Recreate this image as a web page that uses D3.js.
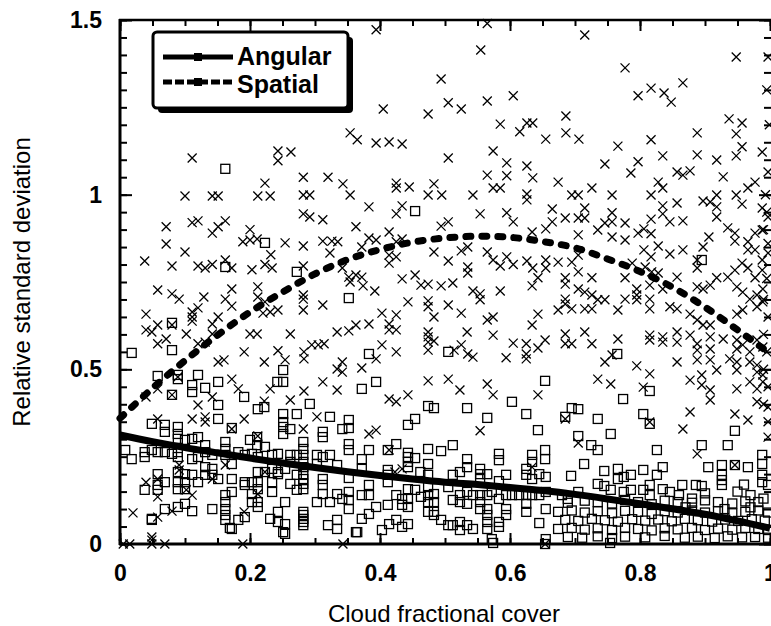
<!DOCTYPE html>
<html>
<head>
<meta charset="utf-8">
<script src="https://cdn.jsdelivr.net/npm/d3@7"></script>
<style>
  body { margin: 0; background: #fff; }
  svg { display: block; font-family: "Liberation Sans", Arial, Helvetica, sans-serif; }
</style>
</head>
<body>
<div id="chart"></div>
<script>
// fitted curves
const fitX = [0, 0.05, 0.1, 0.15, 0.2, 0.25, 0.3, 0.35, 0.4, 0.45, 0.5, 0.55, 0.6, 0.65, 0.7, 0.75, 0.8, 0.85, 0.9, 0.95, 1];
const angularFit = [0.312, 0.293, 0.276, 0.261, 0.246, 0.232, 0.219, 0.207, 0.196, 0.186, 0.177, 0.17, 0.162, 0.153, 0.142, 0.129, 0.115, 0.101, 0.085, 0.066, 0.045];
const spatialFit = [0.36, 0.446, 0.525, 0.598, 0.664, 0.721, 0.773, 0.814, 0.843, 0.864, 0.876, 0.881, 0.878, 0.866, 0.848, 0.816, 0.78, 0.735, 0.678, 0.613, 0.545];

// scatter: spatial (crosses)
const spatialPts = [
  [0.038,0.81],[0.111,1.105],[0.071,0.908],[0.071,0.859],[0.08,0.796],[0.1,0.996],[0.1,0.836],[0.111,0.92],[0.12,0.925],[0.12,0.796],[0.131,0.79],[0.142,0.8],[0.142,0.89],[0.151,0.908],[0.162,0.925],[0.142,0.996],[0.151,0.996],[0.162,0.813],[0.172,0.79],[0.189,0.865],[0.2,0.87],[0.211,0.873],[0.2,0.9],[0.203,0.785],[0.212,0.996],[0.231,0.996],[0.223,1.033],[0.223,0.8],[0.234,0.79],[0.232,0.828],[0.243,1.125],[0.243,1.097],[0.263,1.122],[0.254,0.862],[0.282,1.05],[0.32,1.05],[0.282,0.999],[0.292,0.999],[0.282,0.945],[0.292,0.936],[0.312,0.928],[0.282,0.853],[0.282,0.796],[0.312,0.867],[0.326,0.867],[0.323,0.833],
  [0.394,1.472],[0.565,1.49],[0.555,1.414],[0.494,1.331],[0.405,1.245],[0.474,1.231],[0.505,1.263],[0.525,1.245],[0.565,1.268],[0.605,1.283],[0.354,1.177],[0.365,1.157],[0.394,1.148],[0.414,1.151],[0.434,1.145],[0.585,1.202],[0.615,1.18],[0.626,1.205],[0.635,1.205],[0.655,1.159],[0.505,1.105],[0.574,1.125],[0.595,1.091],[0.626,1.082],[0.635,1.048],[0.565,1.056],[0.595,1.054],[0.574,1.019],[0.585,1.019],[0.626,1.002],[0.626,0.985],[0.343,1.031],[0.354,0.999],[0.425,1.033],[0.425,1.019],[0.445,1.022],[0.483,1.031],[0.474,0.999],[0.495,0.999],[0.543,0.999],[0.383,0.965],[0.425,0.945],[0.434,0.968],[0.363,0.908],[0.494,0.91],[0.505,0.922],[0.554,0.945],[0.595,0.948],[0.605,0.922],[0.655,0.902],[0.665,0.922],[0.665,0.959],[0.634,0.893],[0.335,0.865],[0.372,0.85],[0.383,0.876],[0.394,0.87],[0.414,0.893],[0.425,0.865],[0.434,0.873],[0.342,0.79],[0.414,0.827],[0.414,0.804],[0.425,0.822],[0.483,0.836],[0.505,0.81],[0.525,0.839],[0.535,0.85],[0.535,0.793],[0.535,0.776],[0.565,0.836],[0.574,0.813],[0.585,0.796],[0.595,0.822],[0.605,0.8],[0.626,0.81],[0.635,0.79],[0.655,0.813],[0.655,0.79],[0.352,0.764],[0.363,0.77],[0.372,0.764],[0.434,0.759],[0.454,0.77],[0.643,0.762],
  [0.715,1.457],[0.777,1.363],[0.948,1.394],[0.997,1.394],[0.797,1.283],[0.817,1.305],[0.837,1.291],[0.848,1.265],[0.866,1.32],[0.686,1.225],[0.686,1.177],[0.706,1.159],[0.766,1.139],[0.817,1.157],[0.888,1.177],[0.937,1.217],[0.957,1.205],[0.948,1.174],[0.957,1.137],[0.948,1.111],[0.988,1.122],[0.997,1.065],[0.835,1.111],[0.888,1.114],[0.918,1.099],[0.746,1.088],[0.797,1.094],[0.786,1.062],[0.857,1.065],[0.866,1.056],[0.877,1.068],[0.928,1.051],[0.674,1.036],[0.695,0.999],[0.705,0.999],[0.726,1.019],[0.757,0.999],[0.817,0.999],[0.828,1.036],[0.835,1.019],[0.835,0.968],[0.835,0.945],[0.846,0.922],[0.857,0.976],[0.866,0.925],[0.897,0.982],[0.908,0.979],[0.918,0.999],[0.918,0.965],[0.918,0.936],[0.948,0.999],[0.957,0.973],[0.966,1.019],[0.977,1.036],[0.988,0.962],[0.997,0.936],[0.685,0.933],[0.705,0.933],[0.715,0.962],[0.715,0.933],[0.705,0.885],[0.735,0.899],[0.746,0.919],[0.757,0.948],[0.757,0.922],[0.757,0.879],[0.777,0.919],[0.777,0.87],[0.797,0.89],[0.806,0.902],[0.817,0.888],[0.817,0.93],[0.806,0.842],[0.817,0.822],[0.828,0.853],[0.846,0.83],[0.866,0.842],[0.897,0.85],[0.906,0.879],[0.935,0.905],[0.946,0.89],[0.946,0.867],[0.966,0.865],[0.977,0.89],[0.988,0.899],[0.966,0.842],[0.977,0.842],[0.988,0.813],[0.997,0.833],[0.674,0.807],[0.695,0.807],[0.705,0.827],[0.705,0.779],[0.777,0.762],[0.788,0.804],[0.808,0.793],[0.818,0.779],[0.828,0.776],[0.857,0.764],[0.888,0.813],[0.888,0.79],[0.935,0.764],[0.946,0.784],[0.957,0.804],[0.966,0.79],[0.977,0.762],[0.988,0.784],[0.685,0.762],[0.726,0.762],[0.918,0.762],
  [0.058,0.727],[0.08,0.716],[0.091,0.701],[0.111,0.664],[0.111,0.65],[0.111,0.638],[0.12,0.676],[0.129,0.707],[0.172,0.73],[0.162,0.701],[0.172,0.681],[0.212,0.736],[0.212,0.707],[0.223,0.693],[0.282,0.713],[0.282,0.701],[0.282,0.67],[0.312,0.684],[0.04,0.658],[0.04,0.613],[0.049,0.607],[0.058,0.627],[0.058,0.573],[0.071,0.587],[0.08,0.627],[0.102,0.601],[0.142,0.63],[0.151,0.65],[0.142,0.601],[0.131,0.578],[0.12,0.573],[0.2,0.601],[0.211,0.601],[0.22,0.661],[0.231,0.664],[0.243,0.67],[0.262,0.601],[0.16,0.527],[0.151,0.521],[0.191,0.55],[0.222,0.521],[0.243,0.553],[0.254,0.527],[0.283,0.55],[0.283,0.53],[0.295,0.57],[0.305,0.57],[0.314,0.573],[0.312,0.464],[0.283,0.438],[0.222,0.409],[0.231,0.444],[0.262,0.412],[0.172,0.472],[0.182,0.444],[0.142,0.421],[0.12,0.398],[0.04,0.421],[0.058,0.444],[0.08,0.427],[0.089,0.478],[0.111,0.358],[0.131,0.364],[0.131,0.349],[0.058,0.358],[0.191,0.358],[0.303,0.364],[0.282,0.329],[0.172,0.329],[0.212,0.309],[0.091,0.226],[0.091,0.212],[0.162,0.226],[0.223,0.206],[0.04,0.177],[0.058,0.186],[0.058,0.135],[0.102,0.155],[0.111,0.14],[0.142,0.186],[0.212,0.143],[0.02,0.089],[0.058,0.077],[0.08,0.094],[0.191,0.092],[0.049,0.02],[0.049,0.011],[0.005,0],[0.015,0],[0.049,0],[0.069,0],[0.189,0],[0.343,0],
  [0.354,0.75],[0.374,0.739],[0.392,0.724],[0.463,0.741],[0.474,0.744],[0.494,0.739],[0.512,0.747],[0.543,0.724],[0.554,0.716],[0.554,0.699],[0.585,0.724],[0.634,0.739],[0.443,0.693],[0.474,0.696],[0.474,0.679],[0.483,0.65],[0.505,0.684],[0.525,0.661],[0.403,0.661],[0.425,0.656],[0.414,0.63],[0.414,0.613],[0.425,0.613],[0.383,0.63],[0.363,0.627],[0.352,0.61],[0.334,0.607],[0.474,0.607],[0.474,0.593],[0.474,0.578],[0.474,0.555],[0.483,0.581],[0.534,0.607],[0.565,0.641],[0.574,0.65],[0.574,0.598],[0.643,0.658],[0.634,0.627],[0.403,0.57],[0.425,0.55],[0.394,0.53],[0.372,0.504],[0.342,0.521],[0.342,0.492],[0.334,0.501],[0.514,0.555],[0.525,0.57],[0.535,0.544],[0.543,0.535],[0.605,0.575],[0.625,0.573],[0.625,0.544],[0.625,0.53],[0.643,0.561],[0.654,0.584],[0.594,0.533],[0.474,0.467],[0.505,0.472],[0.443,0.427],[0.414,0.415],[0.425,0.407],[0.523,0.441],[0.565,0.458],[0.574,0.427],[0.643,0.427],[0.334,0.441],[0.383,0.315],[0.394,0.326],[0.554,0.324],[0.414,0.269],[0.423,0.206],[0.434,0.215],[0.634,0.22],[0.654,0],
  [0.685,0.744],[0.705,0.73],[0.715,0.721],[0.726,0.713],[0.735,0.699],[0.746,0.699],[0.766,0.67],[0.777,0.701],[0.674,0.67],[0.685,0.687],[0.685,0.701],[0.695,0.673],[0.715,0.673],[0.726,0.673],[0.795,0.73],[0.795,0.713],[0.795,0.699],[0.815,0.741],[0.815,0.701],[0.815,0.673],[0.835,0.73],[0.846,0.679],[0.857,0.673],[0.877,0.658],[0.888,0.641],[0.897,0.627],[0.908,0.627],[0.888,0.736],[0.897,0.73],[0.908,0.741],[0.949,0.736],[0.958,0.721],[0.969,0.701],[0.98,0.713],[0.989,0.73],[0.949,0.658],[0.958,0.67],[0.98,0.679],[0.989,0.693],[0.685,0.601],[0.685,0.573],[0.695,0.573],[0.715,0.607],[0.726,0.573],[0.766,0.587],[0.815,0.598],[0.815,0.584],[0.835,0.593],[0.835,0.578],[0.857,0.607],[0.857,0.578],[0.877,0.598],[0.888,0.573],[0.888,0.555],[0.908,0.593],[0.908,0.558],[0.928,0.587],[0.949,0.584],[0.949,0.558],[0.958,0.57],[0.969,0.55],[0.98,0.584],[0.989,0.564],[0.746,0.521],[0.757,0.541],[0.795,0.51],[0.815,0.487],[0.857,0.521],[0.888,0.527],[0.908,0.527],[0.918,0.498],[0.895,0.484],[0.938,0.53],[0.949,0.521],[0.949,0.498],[0.969,0.521],[0.98,0.512],[0.98,0.492],[0.989,0.484],[0.735,0.472],[0.755,0.458],[0.805,0.449],[0.877,0.469],[0.895,0.455],[0.908,0.441],[0.908,0.412],[0.949,0.444],[0.969,0.464],[0.98,0.444],[0.98,0.407],[0.989,0.464],[0.685,0.358],[0.815,0.349],[0.877,0.378],[0.866,0.329],[0.946,0.372],[0.966,0.355],[0.997,0.392],[0.997,0.306],[0.705,0.289],[0.888,0.258],[0.946,0.226],
  [0.995,0.95],[0.99,0.9],[0.997,0.86],[0.995,0.76],[0.99,0.7],[0.997,0.65],[0.99,0.6],[0.995,0.55],[0.99,0.5],[0.997,0.45],[0.99,0.4],[0.997,0.35],[0.993,1.0],[0.999,1.2],[0.995,1.3]
];

// scatter: angular (squares)
const angularPts = [
  [0.162,1.074],[0.223,0.862],[0.162,0.793],[0.272,0.779],[0.454,0.953],[0.895,0.813],
  [0.018,0.547],[0.08,0.633],[0.08,0.555],[0.058,0.481],[0.089,0.484],[0.089,0.472],[0.12,0.484],[0.08,0.427],[0.111,0.455],[0.111,0.435],[0.131,0.447],[0.151,0.464],[0.151,0.398],[0.151,0.358],[0.191,0.421],[0.049,0.344],[0.069,0.341],[0.069,0.321],[0.089,0.335],[0.089,0.315],[0.089,0.301],[0.1,0.298],[0.111,0.301],[0.12,0.306],[0.172,0.332],[0.2,0.298],[0.211,0.306],[0.211,0.283],[0.251,0.372],[0.251,0.349],[0.251,0.335],[0.251,0.315],[0.262,0.329],[0.272,0.372],[0.292,0.401],[0.312,0.321],[0.312,0.306],[0.323,0.364],[0.251,0.498],[0.251,0.464],[0.242,0.464],[0.212,0.386],[0.222,0.392],[0.008,0.269],[0.018,0.243],[0.038,0.263],[0.038,0.249],[0.049,0.269],[0.058,0.263],[0.069,0.263],[0.08,0.258],[0.089,0.263],[0.089,0.249],[0.111,0.243],[0.12,0.249],[0.131,0.283],[0.131,0.263],[0.142,0.255],[0.142,0.215],[0.142,0.198],[0.151,0.186],[0.162,0.292],[0.162,0.272],[0.162,0.255],[0.172,0.229],[0.172,0.186],[0.172,0.149],[0.182,0.263],[0.192,0.255],[0.203,0.258],[0.192,0.177],[0.192,0.169],[0.203,0.177],[0.203,0.143],[0.203,0.12],[0.212,0.12],[0.212,0.106],[0.212,0.249],[0.223,0.278],[0.234,0.255],[0.243,0.258],[0.223,0.206],[0.234,0.215],[0.243,0.206],[0.162,0.14],[0.162,0.12],[0.162,0.1],[0.162,0.083],[0.172,0.043],[0.182,0.069],[0.192,0.077],[0.162,0.069],[0.142,0.1],[0.111,0.094],[0.1,0.115],[0.089,0.106],[0.069,0.1],[0.049,0.072],[0.038,0.155],[0.058,0.2],[0.058,0.169],[0.058,0.155],[0.069,0.177],[0.089,0.206],[0.089,0.177],[0.089,0.157],[0.1,0.2],[0.1,0.177],[0.1,0.157],[0.111,0.198],[0.12,0.177],[0.131,0.22],[0.131,0.198],[0.212,0.206],[0.212,0.177],[0.212,0.157],[0.234,0.177],[0.234,0.149],[0.243,0.2],[0.254,0.215],[0.243,0.092],[0.254,0.12],[0.231,0.072],[0.243,0.063],[0.254,0.057],[0.251,0.034],[0.272,0.155],[0.282,0.2],[0.282,0.186],[0.282,0.172],[0.282,0.157],[0.282,0.092],[0.282,0.083],[0.282,0.072],[0.282,0.063],[0.282,0.054],[0.272,0.255],[0.282,0.292],[0.282,0.272],[0.282,0.255],[0.282,0.235],[0.282,0.22],[0.262,0.255],[0.262,0.235],[0.272,0.198],[0.262,0.172],[0.303,0.255],[0.303,0.229],[0.312,0.249],[0.323,0.255],[0.312,0.186],[0.312,0.169],[0.312,0.143],[0.323,0.12],[0.303,0.12],[0.32,0.054],[0.254,0.029],[0.169,0.046],[0.365,0.034],[0.049,0.069],
  [0.352,0.704],[0.383,0.544],[0.505,0.55],[0.394,0.464],[0.372,0.444],[0.654,0.467],[0.474,0.395],[0.483,0.389],[0.534,0.389],[0.603,0.407],[0.625,0.372],[0.565,0.361],[0.443,0.341],[0.454,0.358],[0.352,0.355],[0.352,0.332],[0.342,0.329],[0.643,0.326],[0.352,0.286],[0.352,0.269],[0.425,0.286],[0.512,0.283],[0.443,0.261],[0.443,0.249],[0.443,0.235],[0.443,0.22],[0.454,0.246],[0.474,0.272],[0.474,0.229],[0.474,0.198],[0.494,0.266],[0.534,0.243],[0.534,0.22],[0.583,0.258],[0.583,0.24],[0.634,0.255],[0.634,0.235],[0.654,0.269],[0.654,0.243],[0.334,0.226],[0.372,0.243],[0.383,0.269],[0.372,0.215],[0.412,0.269],[0.412,0.212],[0.412,0.198],[0.412,0.177],[0.352,0.189],[0.383,0.169],[0.462,0.206],[0.512,0.198],[0.523,0.206],[0.554,0.215],[0.554,0.2],[0.554,0.186],[0.565,0.2],[0.594,0.198],[0.583,0.18],[0.625,0.215],[0.625,0.198],[0.634,0.186],[0.645,0.2],[0.655,0.192],[0.334,0.143],[0.342,0.129],[0.352,0.149],[0.352,0.126],[0.352,0.1],[0.372,0.14],[0.383,0.14],[0.412,0.112],[0.425,0.14],[0.434,0.129],[0.434,0.112],[0.443,0.157],[0.443,0.129],[0.443,0.106],[0.454,0.155],[0.463,0.135],[0.474,0.163],[0.474,0.14],[0.474,0.12],[0.474,0.092],[0.483,0.143],[0.483,0.12],[0.483,0.092],[0.505,0.163],[0.512,0.126],[0.523,0.14],[0.523,0.12],[0.534,0.149],[0.534,0.115],[0.543,0.14],[0.554,0.14],[0.554,0.12],[0.554,0.1],[0.565,0.14],[0.565,0.1],[0.565,0.083],[0.565,0.063],[0.565,0.043],[0.572,0.149],[0.583,0.129],[0.594,0.14],[0.594,0.1],[0.594,0.083],[0.583,0.063],[0.583,0.049],[0.603,0.14],[0.614,0.14],[0.625,0.14],[0.625,0.115],[0.625,0.092],[0.634,0.14],[0.645,0.14],[0.655,0.149],[0.655,0.1],[0.645,0.06],[0.334,0.069],[0.334,0.043],[0.363,0.034],[0.372,0.072],[0.383,0.086],[0.394,0.106],[0.403,0.04],[0.414,0.057],[0.425,0.069],[0.434,0.049],[0.443,0.057],[0.483,0.083],[0.494,0.069],[0.505,0.054],[0.512,0.054],[0.523,0.063],[0.523,0.04],[0.534,0.054],[0.543,0.043],[0.572,0.014],[0.655,0.014],[0.574,0.003],[0.654,0],[0.754,0.003],
  [0.765,0.544],[0.815,0.438],[0.805,0.372],[0.815,0.344],[0.774,0.415],[0.695,0.389],[0.705,0.386],[0.685,0.364],[0.735,0.358],[0.705,0.309],[0.755,0.315],[0.725,0.283],[0.735,0.269],[0.826,0.269],[0.895,0.283],[0.935,0.283],[0.946,0.324],[0.714,0.229],[0.694,0.195],[0.745,0.209],[0.766,0.215],[0.766,0.186],[0.775,0.192],[0.786,0.198],[0.805,0.212],[0.826,0.198],[0.835,0.22],[0.905,0.22],[0.926,0.226],[0.946,0.226],[0.966,0.22],[0.988,0.255],[0.988,0.229],[0.865,0.169],[0.886,0.169],[0.895,0.166],[0.926,0.198],[0.926,0.183],[0.926,0.169],[0.988,0.198],[0.988,0.177],[0.997,0.169],[0.735,0.172],[0.745,0.166],[0.755,0.155],[0.775,0.149],[0.786,0.155],[0.805,0.155],[0.815,0.169],[0.815,0.14],[0.835,0.157],[0.846,0.149],[0.68,0.14],[0.689,0.129],[0.705,0.149],
  [0.689,0.118],[0.715,0.124],[0.735,0.12],[0.757,0.116],[0.777,0.126],[0.797,0.12],[0.818,0.114],[0.838,0.124],[0.858,0.12],[0.88,0.118],[0.9,0.125],[0.92,0.12],[0.942,0.116],[0.962,0.122],[0.982,0.12],
  [0.674,0.092],[0.695,0.096],[0.715,0.09],[0.735,0.094],[0.757,0.088],[0.777,0.095],[0.797,0.092],[0.818,0.086],[0.838,0.094],[0.858,0.09],[0.88,0.096],[0.9,0.09],[0.92,0.094],[0.942,0.088],[0.962,0.092],[0.982,0.096],[0.997,0.09],
  [0.685,0.069],[0.705,0.066],[0.726,0.072],[0.746,0.068],[0.766,0.064],[0.788,0.071],[0.808,0.067],[0.828,0.07],[0.849,0.065],[0.869,0.072],[0.889,0.068],[0.911,0.064],[0.931,0.07],[0.951,0.066],[0.972,0.071],[0.992,0.067],
  [0.674,0.043],[0.695,0.046],[0.715,0.041],[0.735,0.045],[0.757,0.04],[0.777,0.046],[0.797,0.043],[0.818,0.039],[0.838,0.045],[0.858,0.042],[0.88,0.046],[0.9,0.04],[0.92,0.044],[0.942,0.041],[0.962,0.046],[0.982,0.043],[0.997,0.04],
  [0.689,0.02],[0.711,0.018],[0.735,0.022],[0.757,0.017],[0.777,0.021],[0.808,0.019],[0.838,0.023],[0.869,0.018],[0.889,0.021],[0.915,0.017],[0.935,0.022],[0.957,0.019],[0.977,0.02],[0.997,0.018],
  [0.86,0.14],[0.88,0.13],[0.9,0.145],[0.95,0.15],[0.97,0.14],[0.99,0.13],[0.96,0.17],[0.87,0.105],[0.93,0.1],[0.97,0.105]
];

const xMajor = [0, 0.2, 0.4, 0.6, 0.8, 1];
const yMajor = [0, 0.5, 1, 1.5];
const xLabels = ['0', '0.2', '0.4', '0.6', '0.8', '1'];
const yLabels = ['0', '0.5', '1', '1.5'];
const seriesNames = ['Angular', 'Spatial'];

const width = 771, height = 626;
const svg = d3.select('#chart').append('svg')
    .attr('width', width)
    .attr('height', height);

const x = d3.scaleLinear().domain([0, 1]).range([120, 770]);
const y = d3.scaleLinear().domain([0, 1.5]).range([544, 20]);

const xMinor = d3.range(0, 1.0001, 0.05);
const yMinor = d3.range(0, 1.5001, 0.05);

function styleAxis(g) {
    g.select('.domain').remove();
    g.selectAll('.tick line').attr('stroke', '#000').attr('stroke-width', 2);
    g.selectAll('.tick text')
        .attr('fill', '#000')
        .attr('font-size', '23px')
        .attr('font-weight', 'bold')
        .attr('font-family', '"Liberation Sans", Arial, sans-serif');
}

// minor ticks on all four sides
svg.append('g').attr('transform', 'translate(0,544)')
    .call(d3.axisBottom(x).tickValues(xMinor).tickSize(-6).tickFormat(''))
    .call(styleAxis);
svg.append('g').attr('transform', 'translate(0,20)')
    .call(d3.axisTop(x).tickValues(xMinor).tickSize(-6).tickFormat(''))
    .call(styleAxis);
svg.append('g').attr('transform', 'translate(120,0)')
    .call(d3.axisLeft(y).tickValues(yMinor).tickSize(-7).tickFormat(''))
    .call(styleAxis);
svg.append('g').attr('transform', 'translate(771,0)')
    .call(d3.axisRight(y).tickValues(yMinor).tickSize(-7).tickFormat(''))
    .call(styleAxis);

// major ticks with labels
svg.append('g').attr('transform', 'translate(0,544)')
    .call(d3.axisBottom(x).tickValues(xMajor).tickSize(-11).tickPadding(21)
        .tickFormat((d, i) => xLabels[i]))
    .call(styleAxis);
svg.append('g').attr('transform', 'translate(0,20)')
    .call(d3.axisTop(x).tickValues(xMajor).tickSize(-11).tickFormat(''))
    .call(styleAxis);
svg.append('g').attr('transform', 'translate(120,0)')
    .call(d3.axisLeft(y).tickValues(yMajor).tickSize(-12).tickPadding(18)
        .tickFormat((d, i) => yLabels[i]))
    .call(styleAxis);
svg.append('g').attr('transform', 'translate(771,0)')
    .call(d3.axisRight(y).tickValues(yMajor).tickSize(-12).tickFormat(''))
    .call(styleAxis);

// frame
svg.append('line').attr('x1', 120).attr('x2', 120).attr('y1', 19).attr('y2', 545)
    .attr('stroke', '#000').attr('stroke-width', 3);
svg.append('line').attr('x1', 119).attr('x2', 771).attr('y1', 544).attr('y2', 544)
    .attr('stroke', '#000').attr('stroke-width', 3);
svg.append('line').attr('x1', 119).attr('x2', 771).attr('y1', 20).attr('y2', 20)
    .attr('stroke', '#000').attr('stroke-width', 2.5);

// scatter
const pts = svg.append('g').attr('fill', 'none').attr('stroke', '#000').attr('stroke-width', 1.3);
pts.selectAll('rect.ang').data(angularPts).join('rect')
    .attr('class', 'ang')
    .attr('x', d => x(d[0]) - 4.5)
    .attr('y', d => y(d[1]) - 4.5)
    .attr('width', 9).attr('height', 9);
pts.selectAll('path.spa').data(spatialPts).join('path')
    .attr('class', 'spa')
    .attr('d', d => {
        const cx = x(d[0]), cy = y(d[1]);
        return `M${cx - 4.5},${cy - 4.5}L${cx + 4.5},${cy + 4.5}M${cx - 4.5},${cy + 4.5}L${cx + 4.5},${cy - 4.5}`;
    });

// fitted curves
const fitLine = vals => d3.line()
    .x((d, i) => x(fitX[i]))
    .y(d => y(d))
    .curve(d3.curveCatmullRom)(vals);

svg.append('path')
    .attr('d', fitLine(angularFit))
    .attr('fill', 'none').attr('stroke', '#000').attr('stroke-width', 7);
svg.append('path')
    .attr('d', fitLine(spatialFit))
    .attr('fill', 'none').attr('stroke', '#000').attr('stroke-width', 7)
    .attr('stroke-linecap', 'round')
    .attr('stroke-dasharray', '5,11');

// legend
const lg = svg.append('g');
lg.append('rect').attr('x', 158).attr('y', 37).attr('width', 195).attr('height', 76)
    .attr('rx', 4).attr('fill', '#000');
lg.append('rect').attr('x', 153).attr('y', 32).attr('width', 195).attr('height', 76)
    .attr('rx', 4).attr('fill', '#fff').attr('stroke', '#000').attr('stroke-width', 3);

lg.append('line').attr('x1', 163).attr('x2', 233).attr('y1', 57).attr('y2', 57)
    .attr('stroke', '#000').attr('stroke-width', 5);
lg.append('rect').attr('x', 194).attr('y', 53).attr('width', 8).attr('height', 8).attr('fill', '#000');
lg.append('line').attr('x1', 163).attr('x2', 233).attr('y1', 82).attr('y2', 82)
    .attr('stroke', '#000').attr('stroke-width', 5).attr('stroke-dasharray', '9,3');
lg.append('rect').attr('x', 194).attr('y', 78).attr('width', 8).attr('height', 8).attr('fill', '#000');

lg.selectAll('text').data(seriesNames).join('text')
    .attr('x', 237)
    .attr('y', (d, i) => 65 + i * 28)
    .attr('font-size', '25px')
    .attr('font-weight', 'bold')
    .text(d => d);

// axis titles
svg.append('text')
    .attr('x', 444).attr('y', 622)
    .attr('text-anchor', 'middle')
    .attr('font-size', '24px')
    .text('Cloud fractional cover');
svg.append('text')
    .attr('transform', 'translate(30,282) rotate(-90)')
    .attr('text-anchor', 'middle')
    .attr('font-size', '24px')
    .text('Relative standard deviation');
</script>
</body>
</html>
